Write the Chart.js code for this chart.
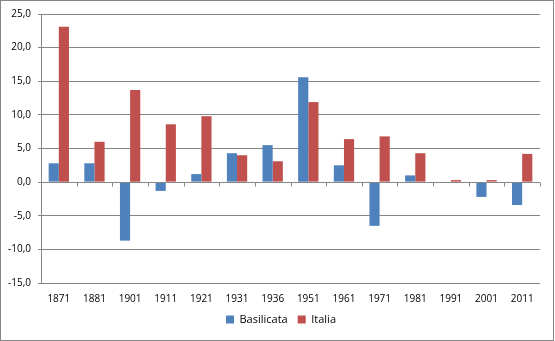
<!DOCTYPE html>
<html><head><meta charset="utf-8">
<script src="https://cdn.jsdelivr.net/npm/chart.js@4/dist/chart.umd.min.js"></script>
<style>html,body{margin:0;padding:0;background:#fff}#wrap{width:555px;height:341px;position:relative}</style>
</head><body><div id="wrap"><canvas id="c" width="555" height="341"></canvas></div>
<script>
const categories = ['1871','1881','1901','1911','1921','1931','1936','1951','1961','1971','1981','1991','2001','2011'];
const basilicata = [2.8, 2.8, -8.7, -1.3, 1.2, 4.3, 5.5, 15.6, 2.5, -6.5, 1.0, 0.0, -2.2, -3.4];
const italia = [23.1, 6.0, 13.7, 8.6, 9.8, 4.0, 3.1, 11.9, 6.4, 6.8, 4.3, 0.3, 0.3, 4.2];
const yTicks = [-15, -10, -5, 0, 5, 10, 15, 20, 25];

const gridColor = '#868686';
const fontFam = "'Open Sans', 'Liberation Sans', sans-serif";

const extras = {
  id: 'extras',
  afterLayout(chart) {
    if (chart.legend) { chart.legend.left += 11; chart.legend.right += 11; }
  },
  afterDatasetsDraw(chart) {
    const ctx = chart.ctx, x = chart.scales.x, y = chart.scales.y;
    const y0 = Math.round(y.getPixelForValue(0)) + 0.5;
    ctx.save();
    ctx.strokeStyle = gridColor; ctx.lineWidth = 1;
    ctx.beginPath();
    ctx.moveTo(chart.chartArea.left, y0); ctx.lineTo(chart.chartArea.right, y0);
    const n = categories.length;
    for (let i = 0; i <= n; i++) {
      const px = Math.round(x.getPixelForValue(i - 0.5)) + 0.5;
      ctx.moveTo(px, y0); ctx.lineTo(px, y0 + 4);
    }
    ctx.stroke();
    ctx.strokeRect(0.5, 0.5, chart.width - 2, chart.height - 1);
    ctx.restore();
  }
};

new Chart(document.getElementById('c'), {
  type: 'bar',
  data: {
    labels: categories,
    datasets: [
      { label: 'Basilicata', data: basilicata, backgroundColor: '#4F81BD', borderWidth: 0, categoryPercentage: 0.57, barPercentage: 1 },
      { label: 'Italia', data: italia, backgroundColor: '#C0504D', borderWidth: 0, categoryPercentage: 0.57, barPercentage: 1 }
    ]
  },
  options: {
    responsive: false,
    animation: false,
    devicePixelRatio: 1,
    layout: { padding: { left: 0, right: 15, top: 14, bottom: 6 } },
    plugins: {
      tooltip: { enabled: false },
      legend: {
        position: 'bottom',
        labels: { boxWidth: 8, boxHeight: 8, color: '#000', padding: 10, font: { family: fontFam, size: 11 } }
      }
    },
    scales: {
      x: {
        grid: { display: false },
        border: { display: false },
        ticks: { color: '#000', font: { family: fontFam, size: 10 }, maxRotation: 0, padding: 2 },
        afterFit(s) { s.height = 21; }
      },
      y: {
        min: -15, max: 25,
        afterBuildTicks(s) { s.ticks = yTicks.map(v => ({ value: v })); },
        ticks: { color: '#000', font: { family: fontFam, size: 10 }, padding: 7,
          callback: v => v.toFixed(1).replace('.', ',') },
        grid: { color: gridColor, lineWidth: 1, tickLength: 3, tickColor: gridColor },
        border: { display: true, color: gridColor },
        afterFit(s) { s.width = 41; }
      }
    }
  },
  plugins: [extras]
});
</script>
</body></html>
